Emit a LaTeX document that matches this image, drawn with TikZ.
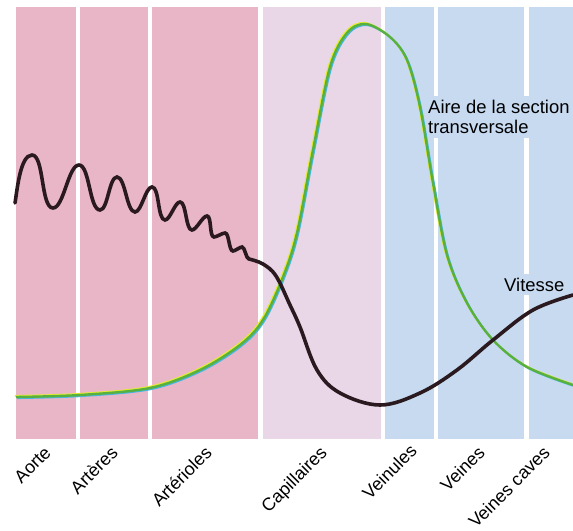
\documentclass[tikz,border=0pt]{standalone}
\usepackage{fontspec}
\setmainfont{Liberation Sans}

\definecolor{rose}{RGB}{233,182,199}
\definecolor{lilas}{RGB}{233,214,231}
\definecolor{bleu}{RGB}{199,218,240}
\definecolor{vert}{RGB}{88,176,62}
\definecolor{jaune}{RGB}{228,234,52}
\definecolor{turquoise}{RGB}{72,182,226}
\definecolor{encre}{RGB}{42,26,32}

% courbe de l'aire de la section transversale
\newcommand\courbeaire{plot[smooth,tension=0.55] coordinates {(16,397) (80,395) (150,388) (200,370) (240,345) (263,320) (283,277) (297,233) (313,150) (330,67) (347,33) (366,24) (390,37) (407,60) (420,107) (433,183) (447,255) (467,303) (493,340) (527,367) (573,385)}}

\begin{document}
\begin{tikzpicture}[x=1bp,y=-1bp,
  sep/.style={white,line width=4.5bp},
  vaisseau/.style={rotate=45,anchor=base east,inner sep=0pt,font=\fontsize{18}{20}\selectfont},
  legende/.style={fill=bleu,inner sep=4bp,font=\fontsize{18.5}{20}\selectfont},
  vague/.style={out=0,in=180,looseness=0.55}]
  \useasboundingbox (0,0) rectangle (573,531);

  % bandes
  \fill[rose] (16,7) rectangle (261,439);
  \fill[lilas] (261,7) rectangle (383,439);
  \fill[bleu] (383,7) rectangle (573,439);
  \foreach \x in {78,150,260.5,383,436,526.5}
    \draw[sep] (\x,7) -- (\x,439);

  % noms des vaisseaux
  \node[vaisseau] (aorte) at (52,454) {Aorte};
  \node[vaisseau] (arteres) at (119,454) {Artères};
  \node[vaisseau] (arterioles) at (213,454) {Artérioles};
  \node[vaisseau] (capillaires) at (328,454) {Capillaires};
  \node[vaisseau] (veinules) at (418,452) {Veinules};
  \node[vaisseau] (veines) at (486,454) {Veines};
  \node[vaisseau] (caves) at (551,454) {Veines caves};

  % legendes
  \node[legende,anchor=north west,align=left] (aire) at (424,96) {Aire de la section\\transversale};
  \node[legende,anchor=base west] (vitesse) at (500,291) {Vitesse};

  % aire
  \draw[turquoise,line width=1.7bp,shift={(1.2,1.2)}] \courbeaire;
  \draw[jaune,line width=1.7bp,shift={(-1.2,-1.2)}] \courbeaire;
  \draw[vert,line width=2.4bp] \courbeaire;

  % vitesse
  \draw[encre,line width=3.6bp,line cap=round] (15,203) to[out=80,in=180,looseness=0.6] (32,155)
    to[vague] (53,208) to[vague] (79,165) to[vague] (100,210) to[vague] (117,177)
    to[vague] (135,212) to[vague] (152,187) to[vague] (165,220) to[vague] (180,202)
    to[vague] (192,230) to[vague] (207,216) to[vague] (214,237) to[vague] (225,233)
    to[vague] (233,251) to[vague] (242,247) to[vague] (249,259)
    -- plot[smooth,tension=0.6] coordinates {(249,259) (263,264) (276,276) (290,305) (300,327) (317,370) (340,393) (380,405) (420,393) (457,370) (493,340) (533,310) (573,295)};
\end{tikzpicture}
\end{document}
